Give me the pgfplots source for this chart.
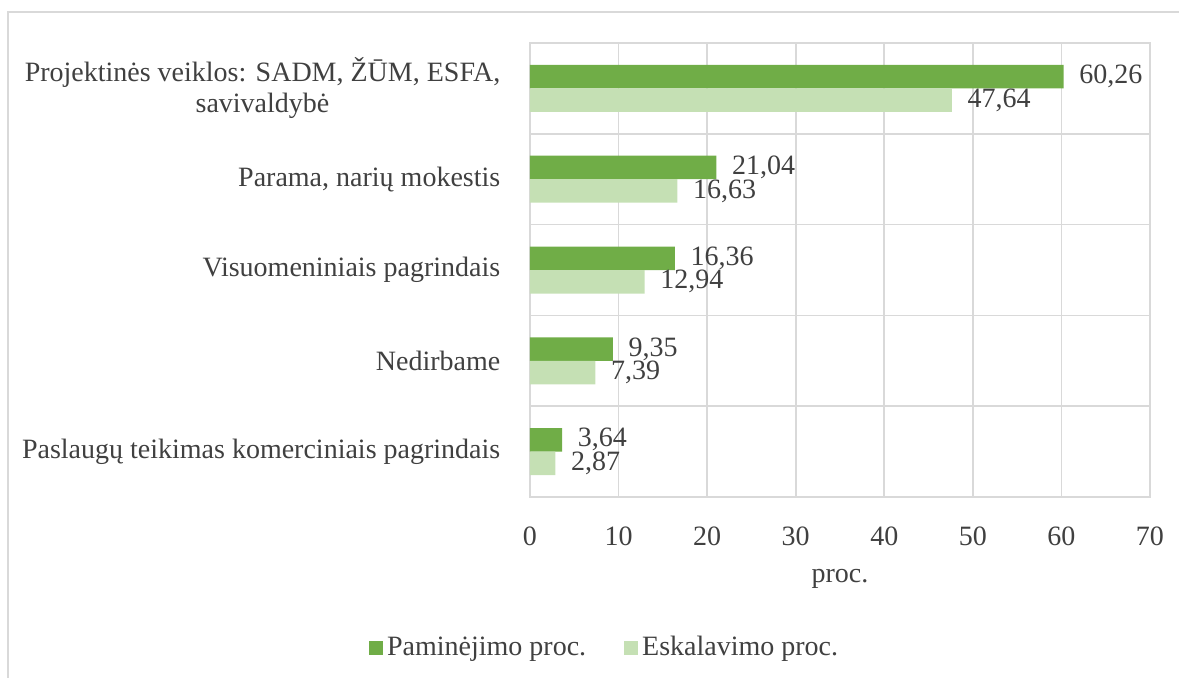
\documentclass[border=0pt]{standalone}
\usepackage{pgfplots}
\pgfplotsset{compat=1.18}
\usepackage{fontspec}
\setmainfont{Liberation Serif}
\definecolor{darkg}{RGB}{112,173,71}
\definecolor{lightg}{RGB}{197,224,180}
\definecolor{txt}{RGB}{64,64,64}
\definecolor{gridc}{RGB}{217,217,217}

\begin{document}
\fontsize{14pt}{15.5pt}\selectfont
\begin{tikzpicture}[font=\fontsize{14pt}{15.5pt}\selectfont]
% page = 1179x677 px at 0.5pt per px, origin at the plot area's lower left
\useasboundingbox (-265pt,-90pt) rectangle (324.5pt,248.5pt);
\draw[gridc, line width=1pt] (-261pt,-91pt) -- (-261pt,242.5pt) -- (325pt,242.5pt);
\begin{axis}[
  name=ax,
  at={(0,0)}, anchor=south west,
  scale only axis,
  width=310pt, height=227pt,
  xbar, bar width=11.75pt,
  xmin=0, xmax=70, xtick={0,10,...,70},
  ymin=-0.5, ymax=4.5, ytick={0,...,4},
  minor ytick={0.5,1.5,2.5,3.5},
  yticklabels={Paslaugų teikimas komerciniais pagrindais, Nedirbame, Visuomeniniais pagrindais, {Parama, narių mokestis}, {Projektinės veiklos: SADM, ŽŪM, ESFA,\\savivaldybė}},
  yticklabel style={align=center, xshift=-10pt, text=txt},
  xticklabel style={yshift=-10pt, text=txt},
  /pgf/number format/assume math mode=true,
  major tick length=0pt, minor tick length=0pt,
  xmajorgrids, yminorgrids,
  grid style={gridc, line width=0.8pt},
  minor grid style={gridc, line width=0.8pt},
  axis line style={gridc, line width=0.8pt},
  xlabel={proc.},
  xlabel style={text=txt, at={(0.5,-0.18)}, anchor=center},
  nodes near coords,
  nodes near coords style={text=txt, xshift=3pt, /pgf/number format/.cd, fixed, precision=2, zerofill, use comma},
  legend style={at={(0.122,-0.333)}, anchor=center, draw=none, legend columns=2,
    text=txt, /tikz/every even column/.append style={column sep=17pt}},
  legend image code/.code={\fill[#1] (0pt,-3.5pt) rectangle (7pt,3.5pt);},
]
\addplot[fill=darkg, draw=none, bar shift=5.875pt] coordinates {(3.64,0) (9.35,1) (16.36,2) (21.04,3) (60.26,4)};
\addplot[fill=lightg, draw=none, bar shift=-5.875pt] coordinates {(2.87,0) (7.39,1) (12.94,2) (16.63,3) (47.64,4)};
\legend{Paminėjimo proc., Eskalavimo proc.}
\end{axis}
\end{tikzpicture}
\end{document}
